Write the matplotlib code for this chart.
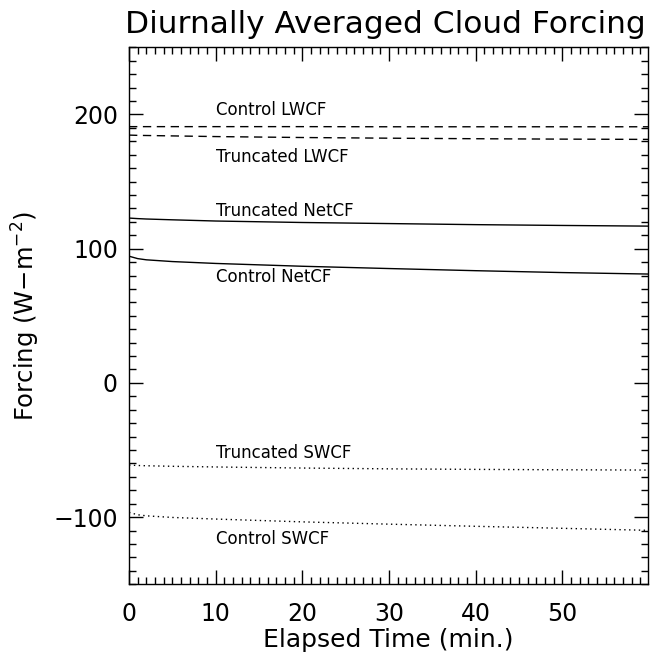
import matplotlib
matplotlib.use("Agg")
import matplotlib.pyplot as plt
from matplotlib.ticker import MultipleLocator, FixedLocator

plt.rcParams['font.family'] = ['DejaVu Sans']
plt.rcParams['mathtext.default'] = 'regular'

# Elapsed time (min.)
time = [0.0, 1.0, 2.0, 5.0, 10.0, 20.0, 30.0, 40.0, 50.0, 59.9]

control_lwcf   = [190.9, 190.9, 190.9, 190.9, 190.9, 190.9, 190.8, 190.8, 190.8, 190.8]
truncated_lwcf = [184.6, 184.4, 184.3, 184.0, 183.5, 182.8, 182.3, 181.9, 181.6, 181.4]
truncated_net  = [122.8, 122.4, 122.1, 121.5, 120.6, 119.5, 118.7, 117.9, 117.3, 116.8]
control_net    = [94.4, 92.6, 91.7, 90.4, 89.0, 86.9, 85.2, 83.6, 82.2, 81.1]
truncated_swcf = [-61.2, -61.5, -61.7, -62.1, -62.6, -63.4, -64.0, -64.4, -64.7, -64.9]
control_swcf   = [-96.4, -98.2, -99.0, -100.2, -101.4, -103.5, -105.2, -106.8, -108.3, -109.8]

label_texts = ["Control LWCF", "Truncated LWCF", "Truncated NetCF",
               "Control NetCF", "Truncated SWCF", "Control SWCF"]
label_x = [10, 10, 10, 10, 10, 10]
label_y = [203, 168.5, 128.3, 78.7, -52, -116.3]

x_ticks = [0, 10, 20, 30, 40, 50]
y_ticks = [-100, 0, 100, 200]

fig = plt.figure(figsize=(6.52, 6.56), dpi=100)
ax = fig.add_axes([129/652, 1 - 584.3/656, (648.3 - 129)/652, (584.3 - 47.3)/656])

ax.plot(time, control_lwcf, color='black', lw=1.0, linestyle=(0, (6, 4)))
ax.plot(time, truncated_lwcf, color='black', lw=1.0, linestyle=(0, (6, 4)))
ax.plot(time, truncated_net, color='black', lw=1.0, linestyle='-')
ax.plot(time, control_net, color='black', lw=1.0, linestyle='-')
ax.plot(time, truncated_swcf, color='black', lw=1.0, linestyle=(0, (1, 2.5)))
ax.plot(time, control_swcf, color='black', lw=1.0, linestyle=(0, (1, 2.5)))

for txt, lx, ly in zip(label_texts, label_x, label_y):
    ax.text(lx, ly, txt, fontsize=12, ha='left', va='center')

ax.set_xlim(0, 59.9)
ax.set_ylim(-150, 250)
ax.xaxis.set_major_locator(FixedLocator(x_ticks))
ax.yaxis.set_major_locator(FixedLocator(y_ticks))
ax.xaxis.set_minor_locator(MultipleLocator(1))
ax.yaxis.set_minor_locator(MultipleLocator(10))
ax.tick_params(which='both', direction='in', top=True, right=True, width=1.0,
               labelsize=17)
ax.tick_params(axis='x', which='major', pad=13)
ax.tick_params(axis='y', which='major', pad=8)
ax.tick_params(which='major', length=10)
ax.tick_params(which='minor', length=5)
for s in ax.spines.values():
    s.set_linewidth(1.0)

ax.set_xlabel('Elapsed Time (min.)', fontsize=18, labelpad=1)
ax.set_ylabel(r'Forcing (W$-$m$^{-2}$)', fontsize=17.5, labelpad=8)
ax.set_title('Diurnally Averaged Cloud Forcing', fontsize=22.5, pad=10, x=0.494)

fig.savefig('out.png', dpi=100)
